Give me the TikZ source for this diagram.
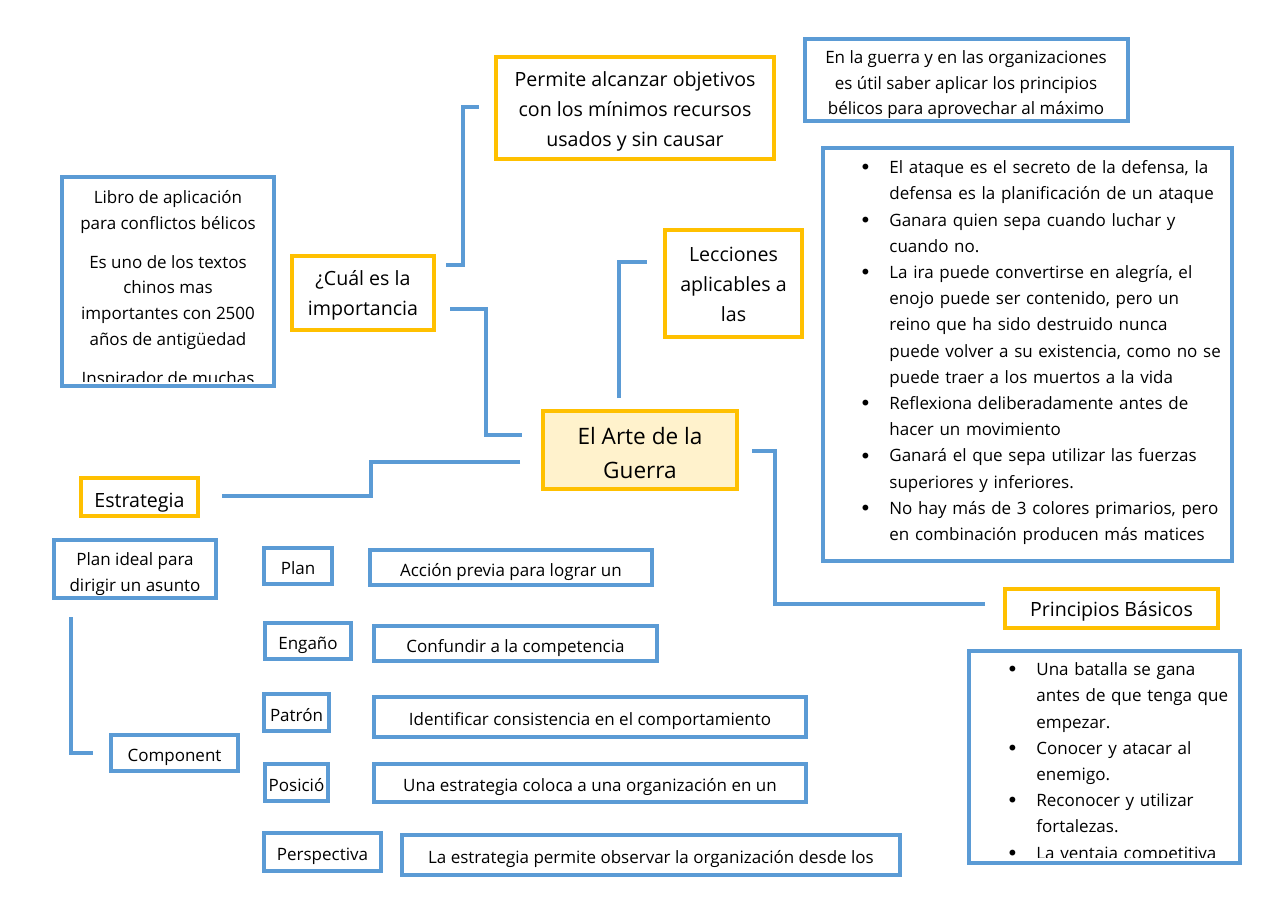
\documentclass[tikz,border=0pt]{standalone}
\usepackage{fontspec}
\setmainfont{Open Sans}
\newfontfamily\dotfont{DejaVu Sans}
\usepackage{enumitem}
\usetikzlibrary{positioning, calc}
\definecolor{mapblue}{HTML}{5B9BD5}
\definecolor{mapgold}{HTML}{FFC000}
\definecolor{mapcream}{HTML}{FFF2CC}
\newcommand{\bodyfont}{\fontsize{8.5}{12.9}\selectfont}
\newcommand{\midfont}{\fontsize{9.8}{15}\selectfont}
\newcommand{\bigfont}{\fontsize{11.3}{17}\selectfont}
\setlist[itemize]{label={\raisebox{-0.6pt}{\dotfont\fontsize{10}{10}\selectfont •}}, leftmargin=11.5pt, labelsep=9pt, itemsep=0pt, topsep=0pt, parsep=0pt, partopsep=0pt}
\tikzstyle{bluebox} = [rectangle, draw=mapblue, line width=2pt, inner sep=0pt, font=\bodyfont, text height=8.5pt, text depth=0pt]
\tikzstyle{goldbox} = [rectangle, draw=mapgold, line width=2pt, inner sep=0pt, font=\midfont, text height=8pt, text depth=0pt]
\tikzstyle{boxtext} = [inner sep=0pt, align=center, font=\midfont]
\tikzstyle{cuttext} = [inner sep=0pt, anchor=north, align=center, font=\bodyfont]
\tikzstyle{listtext} = [inner sep=0pt, anchor=north west, align=left, font=\fontsize{8.5}{13.1}\selectfont]
\tikzstyle{link} = [draw=mapblue, line width=2pt]
\begin{document}
\begin{tikzpicture}[x=0.5pt, y=-0.5pt]
    \useasboundingbox (0,0) rectangle (1280,905);
    % nodos
    \node (arte) [goldbox, fill=mapcream, minimum width=97pt, minimum height=39pt] at (640,450) {};
    \node (cual) [goldbox, minimum width=71pt, minimum height=37pt] at (363,293) {};
    \node (permite) [goldbox, minimum width=139pt, minimum height=51pt] at (635,108) {};
    \node (lecciones) [goldbox, minimum width=68.5pt, minimum height=53.5pt] at (733.5,283.5) {};
    \node (principios) [goldbox, minimum width=106.5pt, minimum height=19.5pt] at (1111.5,608.5) {Principios Básicos};
    \node (estrategia) [goldbox, minimum width=58.5pt, minimum height=19pt] at (139.5,497) {};

    \node (arteText) [boxtext, font=\bigfont] at ($(arte.center)+(0,3.5)$) {El Arte de la\\Guerra};
    \node (cualText) [boxtext] at ($(cual.center)+(0,2)$) {¿Cuál es la\\importancia};
    \node (permiteText) [boxtext] at ($(permite.center)+(0,3)$) {Permite alcanzar objetivos\\con los mínimos recursos\\usados y sin causar};
    \node (leccionesText) [boxtext] at ($(lecciones.center)+(0,0.5)$) {Lecciones\\aplicables a\\las};

    \node (guerraorg) [bluebox, minimum width=161.5pt, minimum height=41pt] at (966.5,80) {};
    \node (libro) [bluebox, minimum width=106pt, minimum height=104.5pt] at (168,281.5) {};
    \node (leccionesList) [bluebox, minimum width=204.5pt, minimum height=206.5pt] at (1027.5,354.5) {};
    \node (principiosList) [bluebox, minimum width=135.5pt, minimum height=106pt] at (1104.5,757) {};
    \node (planideal) [bluebox, minimum width=81pt, minimum height=29pt] at (135,569) {};
    \node (component) [bluebox, minimum width=63.5pt, minimum height=18pt] at (174.5,753) {Component};

    \node (plan) [bluebox, minimum width=34pt, minimum height=18pt] at (298,566) {Plan};
    \node (planDef) [bluebox, minimum width=141pt, minimum height=17.5pt] at (511,567.5) {Acción previa para lograr un};
    \node (engano) [bluebox, minimum width=43pt, minimum height=18pt] at (308,641) {Engaño};
    \node (enganoDef) [bluebox, minimum width=141.5pt, minimum height=17.5pt] at (515.5,643.5) {Confundir a la competencia};
    \node (patron) [bluebox, minimum width=32.5pt, minimum height=18.5pt] at (296.5,712.5) {Patrón};
    \node (patronDef) [bluebox, minimum width=216pt, minimum height=20pt] at (590,717) {Identificar consistencia en el comportamiento};
    \node (posicion) [bluebox, minimum width=31.5pt, minimum height=18.5pt] at (296.5,782.5) {Posició};
    \node (posicionDef) [bluebox, minimum width=216pt, minimum height=19pt] at (590,783) {Una estrategia coloca a una organización en un};
    \node (perspectiva) [bluebox, minimum width=58.5pt, minimum height=19pt] at (322.5,852) {Perspectiva};
    \node (perspectivaDef) [bluebox, minimum width=249pt, minimum height=20pt] at (651,855) {La estrategia permite observar la organización desde los};

    % textos cortados por el borde
    \begin{scope}
        \clip (807,41) rectangle (1126,117);
        \node (guerraorgText) [cuttext] at (966,50) {En la guerra y en las organizaciones\\es útil saber aplicar los principios\\bélicos para aprovechar al máximo};
    \end{scope}
    \begin{scope}
        \clip (64,179) rectangle (272,381);
        \node (libroText) [cuttext] at (168,190) {Libro de aplicación\\para conflictos bélicos\\[6.5pt]Es uno de los textos\\chinos mas\\importantes con 2500\\años de antigüedad\\[6.5pt]Inspirador de muchas};
    \end{scope}
    \begin{scope}
        \clip (83,480) rectangle (196,513);
        \node (estrategiaText) [font=\midfont, inner sep=0pt, anchor=base] at (139.5,507) {Estrategia};
    \end{scope}
    \begin{scope}
        \clip (56,542) rectangle (214,594);
        \node (planidealText) [cuttext] at (135,552) {Plan ideal para\\dirigir un asunto};
    \end{scope}
    \begin{scope}
        \clip (825,150) rectangle (1230,559);
        \node (leccionesListText) [listtext, text width=200pt] at (866,147) {\begin{itemize}
            \item El ataque es el secreto de la defensa, la\newline defensa es la planificación de un ataque
            \item Ganara quien sepa cuando luchar y\newline cuando no.
            \item La ira puede convertirse en alegría, el\newline enojo puede ser contenido, pero un\newline reino que ha sido destruido nunca\newline puede volver a su existencia, como no se\newline puede traer a los muertos a la vida
            \item Reflexiona deliberadamente antes de\newline hacer un movimiento
            \item Ganará el que sepa utilizar las fuerzas\newline superiores y inferiores.
            \item No hay más de 3 colores primarios, pero\newline en combinación producen más matices
        \end{itemize}};
    \end{scope}
    \begin{scope}
        \clip (971,653) rectangle (1238,857);
        \node (principiosListText) [listtext, text width=130pt] at (1013,649) {\begin{itemize}
            \item Una batalla se gana\newline antes de que tenga que\newline empezar.
            \item Conocer y atacar al\newline enemigo.
            \item Reconocer y utilizar\newline fortalezas.
            \item La ventaja competitiva
        \end{itemize}};
    \end{scope}

    % conectores
    \coordinate (cualUp) at ($(cual.east)+(10,-28)$);
    \coordinate (permiteIn) at ($(permite.west)+(-15,-1)$);
    \coordinate (cualDown) at ($(cual.east)+(14,16)$);
    \coordinate (arteInL) at ($(arte.west)+(-19,-15)$);
    \coordinate (arteOutL) at ($(arte.west)+(-21,12)$);
    \coordinate (estrategiaIn) at ($(estrategia.east)+(22,-1)$);
    \coordinate (arteOutT) at ($(arte.north)+(-21,-11)$);
    \coordinate (leccionesIn) at ($(lecciones.west)+(-16,-21.5)$);
    \coordinate (arteOutR) at ($(arte.east)+(13,1)$);
    \coordinate (principiosIn) at ($(principios.west)+(-18,-4.5)$);
    \coordinate (planidealOut) at ($(planideal.south)+(-64,17)$);
    \coordinate (componentIn) at ($(component.west)+(-16,0)$);

    \draw [link] (cualUp) -| ($(cualUp)!.5!(permiteIn)$) |- (permiteIn);
    \draw [link] (cualDown) -| ($(cualDown)!.5!(arteInL)$) |- (arteInL);
    \draw [link] (arteOutL) -| ($(arteOutL)!.5!(estrategiaIn)$) |- (estrategiaIn);
    \draw [link] (arteOutT) |- (leccionesIn);
    \draw [link] (arteOutR) -- ++(23,0) |- (principiosIn);
    \draw [link] (planidealOut) |- (componentIn);
\end{tikzpicture}
\end{document}
